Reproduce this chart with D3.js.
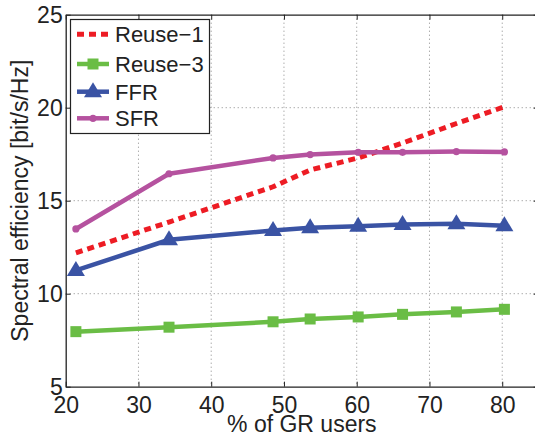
<!DOCTYPE html>
<html><head><meta charset="utf-8">
<script src="https://cdn.jsdelivr.net/npm/d3@7"></script>
<style>body{margin:0;background:#fff}svg{display:block}</style>
</head><body>
<script>
const xValues = [21.4, 34.2, 48.5, 53.6, 60.2, 66.3, 73.7, 80.3];
const reuse1 = [12.2, 13.85, 15.75, 16.65, 17.3, 18.1, 19.15, 20.05];
const reuse3 = [7.96, 8.2, 8.49, 8.64, 8.75, 8.89, 9.02, 9.16];
const ffr = [11.25, 12.9, 13.4, 13.55, 13.62, 13.72, 13.76, 13.65];
const sfr = [13.48, 16.45, 17.3, 17.48, 17.6, 17.6, 17.64, 17.62];
const seriesNames = ["Reuse\u22121", "Reuse\u22123", "FFR", "SFR"];
const xTicks = [20, 30, 40, 50, 60, 70, 80];
const yTicks = [5, 10, 15, 20, 25];

const W = 535, H = 436;
const m = {left: 65.7, top: 14.7, right: 538.6, bottom: 386.7};
const font = "Liberation Sans, Arial, Helvetica, sans-serif";

const svg = d3.select("body").append("svg").attr("width", W).attr("height", H);
const x = d3.scaleLinear().domain([20, 85]).range([m.left, m.right]);
const y = d3.scaleLinear().domain([5, 25]).range([m.bottom, m.top]);

// grid
const g = svg.append("g");
g.selectAll(".vg").data(xTicks.slice(1)).enter().append("line")
  .attr("x1", d => x(d)).attr("x2", d => x(d)).attr("y1", m.top).attr("y2", m.bottom)
  .attr("stroke", "#888").attr("stroke-width", 1).attr("stroke-dasharray", "1,3");
g.selectAll(".hg").data(yTicks.slice(1, -1)).enter().append("line")
  .attr("y1", d => y(d)).attr("y2", d => y(d)).attr("x1", m.left).attr("x2", m.right)
  .attr("stroke", "#888").attr("stroke-width", 1).attr("stroke-dasharray", "1,3");

// axes
const axB = d3.axisBottom(x).tickValues(xTicks).tickSizeInner(-5).tickSizeOuter(0).tickPadding(10);
const axL = d3.axisLeft(y).tickValues(yTicks).tickSizeInner(-5).tickSizeOuter(0).tickPadding(3);
const axT = d3.axisTop(x).tickValues(xTicks).tickSizeInner(-5).tickSizeOuter(0).tickFormat("");
const axR = d3.axisRight(y).tickValues(yTicks).tickSizeInner(-5).tickSizeOuter(0).tickFormat("");
function styleAx(sel){
  sel.selectAll("path").attr("stroke", "#222").attr("stroke-width", 1.3);
  sel.selectAll("line").attr("stroke", "#222").attr("stroke-width", 1);
  sel.selectAll("text").attr("font-family", font).attr("font-size", 23).attr("fill", "#222");
}
svg.append("g").attr("transform", `translate(0,${m.bottom})`).call(axB).call(styleAx);
svg.append("g").attr("transform", `translate(${m.left},0)`).call(axL).call(styleAx)
  .selectAll("text").attr("dy", "0.36em");
svg.append("g").attr("transform", `translate(0,${m.top})`).call(axT).call(styleAx);
svg.append("g").attr("transform", `translate(${m.right},0)`).call(axR).call(styleAx);

// labels
svg.append("text").attr("x", (m.left + 502) / 2 + 18).attr("y", 432)
  .attr("text-anchor", "middle").attr("font-family", font).attr("font-size", 23).attr("fill", "#222")
  .text("% of GR users");
svg.append("text").attr("transform", `translate(28,${(m.top + m.bottom) / 2}) rotate(-90)`)
  .attr("text-anchor", "middle").attr("font-family", font).attr("font-size", 23).attr("fill", "#222")
  .text("Spectral efficiency [bit/s/Hz]");

const colors = ["#ed1c24", "#6abd45", "#3a53a4", "#b5529f"];
const data = [reuse1, reuse3, ffr, sfr];
const line = d3.line().x((d, i) => x(xValues[i])).y(d => y(d));

const plot = svg.append("g");
function drawMarker(sel, k, cx, cy){
  if (k === 1) sel.append("rect").attr("x", cx - 5.5).attr("y", cy - 5.5).attr("width", 11).attr("height", 11).attr("fill", colors[1]);
  else if (k === 2) sel.append("path").attr("d", `M${cx},${cy-9.5}L${cx+9},${cy+5.5}L${cx-9},${cy+5.5}Z`).attr("fill", colors[2]);
  else if (k === 3) sel.append("circle").attr("cx", cx).attr("cy", cy).attr("r", 3.6).attr("fill", colors[3]);
}
data.forEach((vals, k) => {
  const p = plot.append("path").datum(vals).attr("d", line).attr("fill", "none")
    .attr("stroke", colors[k]).attr("stroke-width", k === 0 ? 5 : 4.5).attr("stroke-linejoin", "round");
  if (k === 0) p.attr("stroke-dasharray", "7,5");
  vals.forEach((v, i) => drawMarker(plot, k, x(xValues[i]), y(v)));
});

// legend
const lg = svg.append("g");
lg.append("rect").attr("x", 70.5).attr("y", 19.5).attr("width", 139).attr("height", 114)
  .attr("fill", "#fff").attr("stroke", "#222").attr("stroke-width", 1.2);
const ly = [34.3, 64, 91.7, 118.3];
seriesNames.forEach((n, k) => {
  const l = lg.append("line").attr("x1", 77).attr("x2", 109).attr("y1", ly[k]).attr("y2", ly[k])
    .attr("stroke", colors[k]).attr("stroke-width", k === 0 ? 5 : 4.5);
  if (k === 0) l.attr("stroke-dasharray", "7,5");
  drawMarker(lg, k, 93, ly[k]);
  lg.append("text").attr("x", 115).attr("y", ly[k] + 8).attr("font-family", font).attr("font-size", 22)
    .attr("fill", "#222").text(n);
});
</script>
</body></html>
